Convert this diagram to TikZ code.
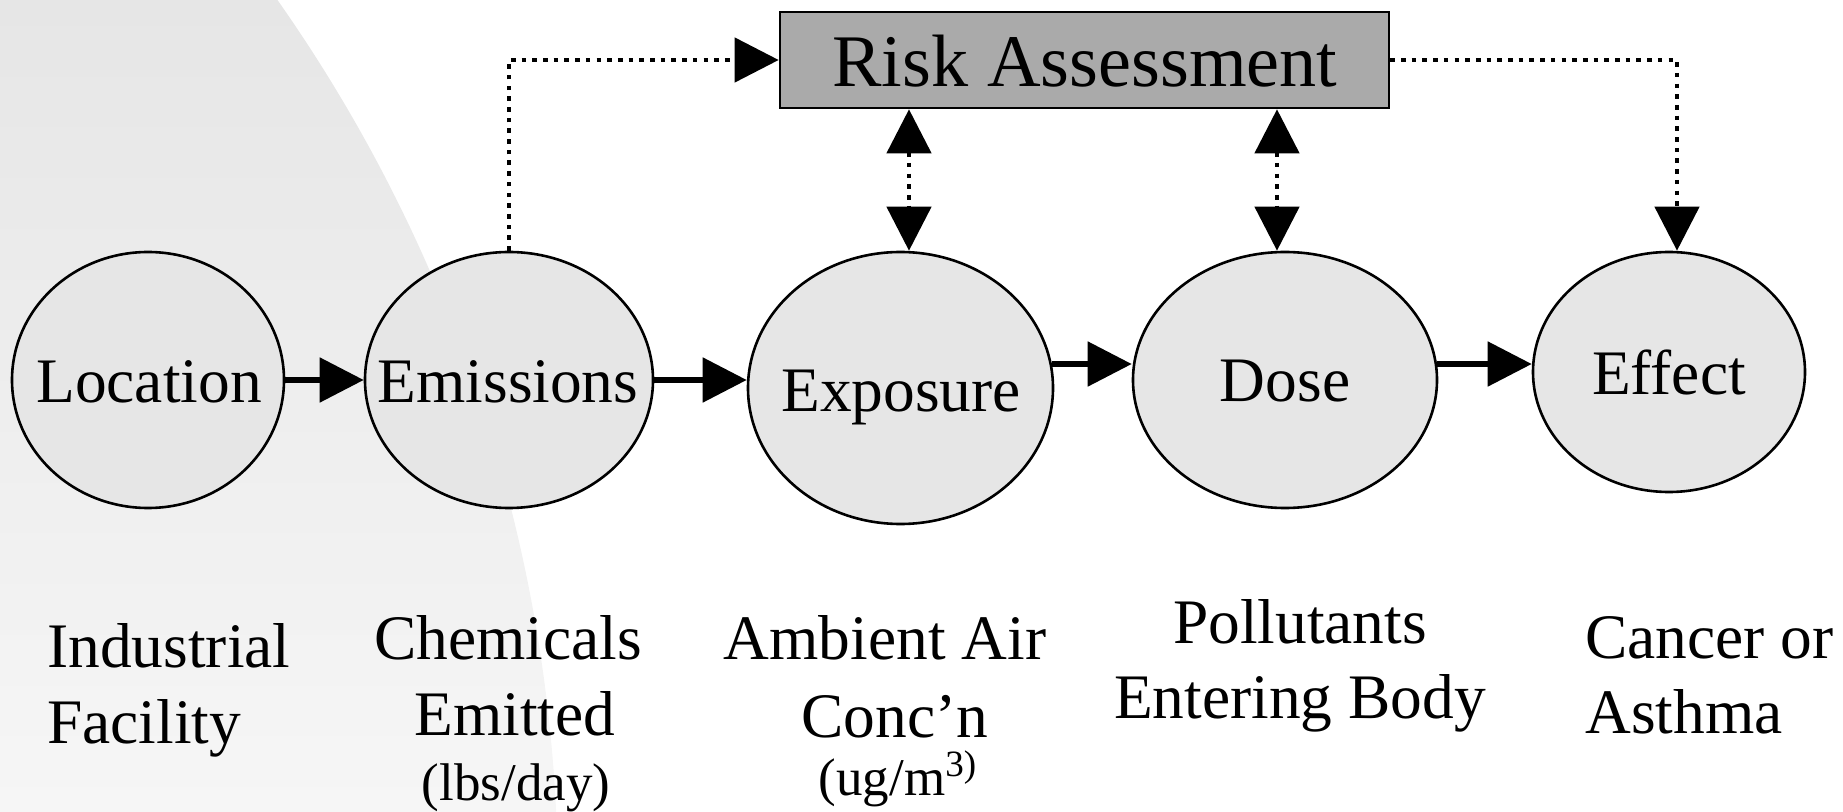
\documentclass[tikz,border=0pt]{standalone}
\usepackage{fontspec}
\setmainfont{Liberation Serif}
\usetikzlibrary{arrows.meta,shapes.geometric}
\definecolor{bgtop}{RGB}{230,230,230}
\definecolor{bgbot}{RGB}{246,246,246}
\definecolor{ellfill}{RGB}{230,230,230}
\definecolor{boxfill}{RGB}{170,170,170}
\tikzset{
  stage/.style={ellipse, draw, line width=1.3pt, fill=ellfill, inner sep=0pt},
  txt/.style={inner sep=0pt, font=\fontsize{31.7pt}{38pt}\selectfont},
  smalltxt/.style={inner sep=0pt, font=\fontsize{26.5pt}{32pt}\selectfont},
  bigtip/.tip={Triangle[length=22pt,width=22pt]},
  flow/.style={line width=2.6pt, -bigtip},
  link/.style={line width=2.3pt, dash pattern=on 2.3pt off 3.05pt, -bigtip},
  duallink/.style={line width=2.3pt, dash pattern=on 2.3pt off 3.05pt, bigtip-bigtip},
}
\begin{document}
\begin{tikzpicture}[x=0.5pt, y=-0.5pt]
\useasboundingbox (0,0) rectangle (1843,812);
% background
\begin{scope}
  \clip (-987,888) circle[radius=772.5pt];
  \shade[top color=bgtop, bottom color=bgbot] (0,0) rectangle (1843,812);
\end{scope}

% stages
\node[stage, minimum width=136pt, minimum height=128pt] (loc) at (148,380) {};
\node[stage, minimum width=144pt, minimum height=128pt] (emi) at (509,380) {};
\node[stage, minimum width=152.5pt, minimum height=136pt] (exp) at (900.5,388) {};
\node[stage, minimum width=152pt, minimum height=128pt] (dose) at (1285,380) {};
\node[stage, minimum width=136pt, minimum height=120pt] (eff) at (1669,372) {};
\node[draw, line width=1.3pt, fill=boxfill, minimum width=304.5pt, minimum height=48pt, inner sep=0pt] (ra) at (1084.5,60) {};

% texts in shapes
\node[txt, anchor=base] (tloc) at (149,403) {Location};
\node[txt, anchor=base] (temi) at (508,403) {Emissions};
\node[txt, anchor=base] (texp) at (901,412) {Exposure};
\node[txt, anchor=base] (tdose) at (1285,402) {Dose};
\node[txt, anchor=base] (teff) at (1669,395) {Effect};
\node[anchor=base, inner sep=0pt, font=\fontsize{37.1pt}{44pt}\selectfont] (tra) at (1085,87) {Risk Assessment};

% labels below
\node[txt, anchor=base west] (l1a) at (47,668) {Industrial};
\node[txt, anchor=base west] (l1b) at (47,743) {Facility};
\node[txt, anchor=base] (l2a) at (508,660) {Chemicals};
\node[txt, anchor=base] (l2b) at (515,735) {Emitted};
\node[smalltxt, anchor=base] (l2c) at (516,800) {(lbs/day)};
\node[txt, anchor=base] (l3a) at (885,660) {Ambient Air};
\node[txt, anchor=base] (l3b) at (895,737) {Conc’n};
\node[smalltxt, anchor=base] (l3c) at (898,795) {(ug/m\textsuperscript{3)}};
\node[txt, anchor=base] (l4a) at (1300,643) {Pollutants};
\node[txt, anchor=base] (l4b) at (1300,718) {Entering Body};
\node[txt, anchor=base west] (l5a) at (1585,658) {Cancer or};
\node[txt, anchor=base west] (l5b) at (1585,733) {Asthma};

% solid flow arrows
\draw[flow] (loc.east) -- (emi.west);
\draw[flow] (emi.east) -- (emi.east -| exp.west);
\draw[flow] (exp.9.5) -- (exp.9.5 -| dose.west);
\draw[flow] (dose.6.4) -- (dose.6.4 -| eff.west);

% dotted links
\draw[link] (emi.north) |- (ra.west);
\coordinate (effTop) at ([xshift=4pt]eff.north);
\draw[link] (ra.east) -| (effTop);
\coordinate (expTop) at ([xshift=4.25pt]exp.north);
\coordinate (doseTop) at ([xshift=-4pt]dose.north);
\draw[duallink] (ra.south -| expTop) -- (expTop);
\draw[duallink] (ra.south -| doseTop) -- (doseTop);
\end{tikzpicture}
\end{document}
